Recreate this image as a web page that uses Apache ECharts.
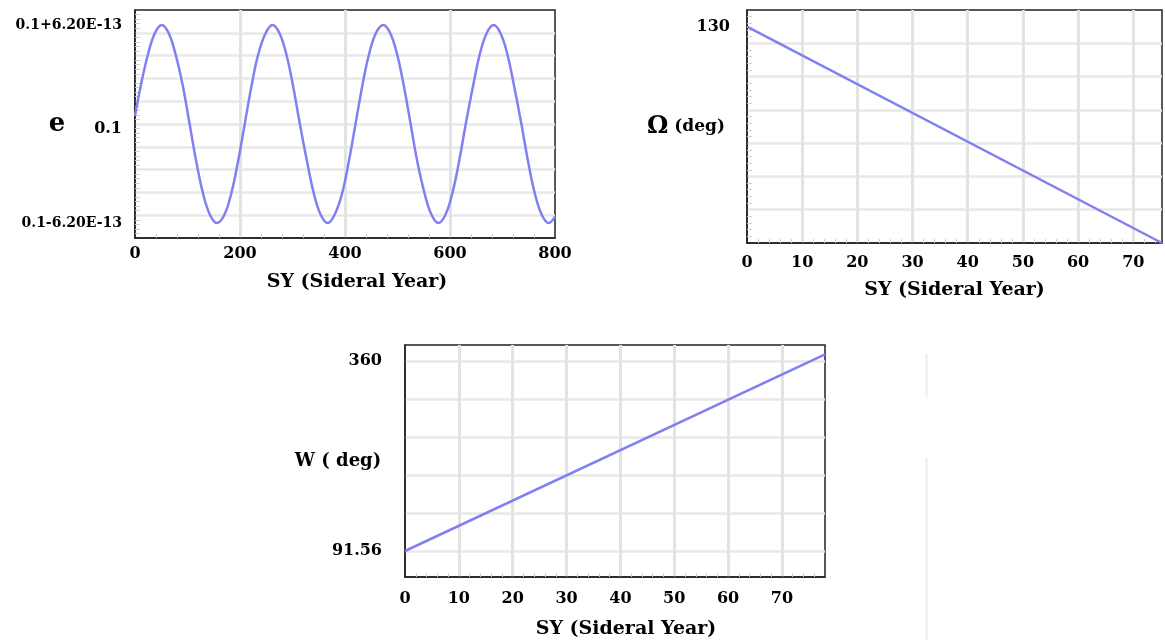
<!DOCTYPE html>
<html><head><meta charset="utf-8">
<script src="https://cdn.jsdelivr.net/npm/echarts@6/dist/echarts.min.js"></script>
<style>html,body{margin:0;padding:0;background:#fff}#c{width:1165px;height:640px}</style>
</head><body><div id="c"></div>
<script>
// ---- Data ----
// Chart 1: eccentricity e, stored as deviation from 0.1 in units of 1E-13
const eYears = [0, 11, 25, 38, 51, 64, 77, 91, 104, 117, 130, 143, 156, 170, 183, 196, 209, 222, 235, 249, 262, 275, 288, 301, 314, 328, 341, 354, 367, 380, 394, 407, 420, 433, 446, 459, 473, 486, 499, 512, 525, 538, 552, 565, 578, 591, 604, 617, 630, 644, 657, 670, 683, 696, 709, 722, 736, 749, 762, 775, 788, 800];
const eDev   = [0.5, 2.4, 4.4, 5.7, 6.2, 5.7, 4.4, 2.4, 0, -2.4, -4.4, -5.7, -6.2, -5.7, -4.4, -2.4, 0, 2.4, 4.4, 5.7, 6.2, 5.7, 4.4, 2.4, 0, -2.4, -4.4, -5.7, -6.2, -5.7, -4.4, -2.4, 0, 2.4, 4.4, 5.7, 6.2, 5.7, 4.4, 2.4, 0, -2.4, -4.4, -5.7, -6.2, -5.7, -4.4, -2.4, 0, 2.4, 4.4, 5.7, 6.2, 5.7, 4.4, 2.4, 0, -2.4, -4.4, -5.7, -6.2, -5.8];
const eLabelValues = [-6.2, 0, 6.2];
// Chart 2: Omega (deg)
const omegaYears = [0, 75.2];
const omegaDeg   = [130, 0];
const omegaLabelValues = [130];
// Chart 3: W (deg)
const wYears = [0, 78];
const wDeg   = [91.56, 369.5];
const wLabelValues = [91.56, 360];
const wGridValues  = [91.56, 145.25, 198.94, 252.62, 306.31, 360];
const xName = 'SY (Sideral Year)';

// ---- Styling ----
const FONT = '"DejaVu Serif", "Liberation Serif", serif';
const LINE = '#8080f2';
const txt = (size) => ({fontFamily: FONT, fontWeight: 'bold', fontSize: size, color: '#000'});

function xAx(gi, max, labelMargin, nameGap, namePad) {
  return {
    type: 'value', gridIndex: gi, min: 0, max: max, interval: gi === 0 ? 200 : 10,
    name: xName, nameLocation: 'middle', nameGap: nameGap, nameMoveOverlap: false,
    nameTextStyle: Object.assign(txt(19), {padding: namePad}),
    axisLine: {show: true, onZero: false, lineStyle: {color: '#222', width: 1.5}},
    axisTick: {show: false, inside: true},
    minorTick: {show: true, splitNumber: 5, length: 4, lineStyle: {color: '#cfcfcf', width: 1}},
    axisLabel: Object.assign(txt(16), {margin: labelMargin, showMaxLabel: gi === 0}),
    splitLine: {show: true, showMinLine: false, showMaxLine: false, lineStyle: {color: '#e3e3e3', width: 3}}
  };
}

const yBase = {
  type: 'value',
  nameMoveOverlap: false,
  axisLine: {show: true, onZero: false, lineStyle: {color: '#222', width: 1.5}},
  axisTick: {show: false, inside: true},
  minorTick: {show: true, splitNumber: 5, length: 5, lineStyle: {color: '#cfcfcf', width: 1}},
  splitLine: {show: true, showMinLine: false, showMaxLine: false, lineStyle: {color: '#e8e8e8', width: 2.5}}
};

const option = {
  backgroundColor: '#fff',
  animation: false,
  grid: [
    {left: 135, top: 10, width: 420, height: 228, show: true, borderColor: '#222', borderWidth: 1.5, backgroundColor: '#fff'},
    {left: 747, top: 10, width: 415, height: 233, show: true, borderColor: '#222', borderWidth: 1.5, backgroundColor: '#fff'},
    {left: 405, top: 345, width: 420, height: 232, show: true, borderColor: '#222', borderWidth: 1.5, backgroundColor: '#fff'}
  ],
  xAxis: [
    xAx(0, 800, 8, 35, [0, 0, 0, 24]),
    xAx(1, 75.2, 12, 38, [0, 0, 0, 0]),
    xAx(2, 78, 14, 43, [0, 0, 0, 22])
  ],
  yAxis: [
    Object.assign({}, yBase, {
      gridIndex: 0, min: -7.14, max: 7.14, interval: 1.428,
      name: 'e', nameLocation: 'middle', nameRotate: 0, nameGap: 78,
      nameTextStyle: Object.assign(txt(26), {align: 'center', verticalAlign: 'middle', padding: [0, 0, 2, 0]}),
      axisLabel: {
        customValues: eLabelValues, margin: 13,
        formatter: v => Math.abs(v) < 1e-9 ? '{b|0.1}' : '{s|0.1' + (v > 0 ? '+' : '-') + Math.abs(v).toFixed(2) + 'E-13}',
        rich: {b: Object.assign(txt(16), {padding: [10, 0, 0, 0]}), s: txt(14)}
      }
    }),
    Object.assign({}, yBase, {
      gridIndex: 1, min: 0, max: 140, interval: 20,
      name: '{o|Ω} (deg)', nameLocation: 'middle', nameRotate: 0, nameGap: 61,
      nameTextStyle: Object.assign(txt(17), {align: 'center', verticalAlign: 'middle', rich: {o: txt(24)}}),
      axisLabel: Object.assign(txt(16), {customValues: omegaLabelValues, margin: 17})
    }),
    Object.assign({}, yBase, {
      gridIndex: 2, min: 54.83, max: 382.6,
      name: 'W ( deg)', nameLocation: 'middle', nameRotate: 0, nameGap: 67,
      nameTextStyle: Object.assign(txt(18), {align: 'center', verticalAlign: 'middle'}),
      axisTick: {show: false, inside: true, customValues: wGridValues},
      minorTick: {show: false},
      splitLine: {show: true, showMinLine: true, showMaxLine: true, lineStyle: {color: '#e8e8e8', width: 2.5}},
      axisLabel: Object.assign(txt(16), {customValues: wLabelValues, margin: 23})
    })
  ],
  series: [
    {type: 'line', xAxisIndex: 0, yAxisIndex: 0, smooth: 0.4, showSymbol: false, clip: true,
     lineStyle: {color: LINE, width: 2.5}, data: eYears.map((x, i) => [x, eDev[i]])},
    {type: 'line', xAxisIndex: 1, yAxisIndex: 1, showSymbol: false, clip: true,
     lineStyle: {color: LINE, width: 2.5}, data: omegaYears.map((x, i) => [x, omegaDeg[i]])},
    {type: 'line', xAxisIndex: 2, yAxisIndex: 2, showSymbol: false, clip: true,
     lineStyle: {color: LINE, width: 2.5}, data: wYears.map((x, i) => [x, wDeg[i]])}
  ],
  graphic: [
    {type: 'line', silent: true, shape: {x1: 926.5, y1: 354, x2: 926.5, y2: 397}, style: {stroke: '#ececec', lineWidth: 2}},
    {type: 'line', silent: true, shape: {x1: 926.5, y1: 458, x2: 926.5, y2: 640}, style: {stroke: '#ececec', lineWidth: 2}}
  ]
};

const chart = echarts.init(document.getElementById('c'), null, {renderer: 'canvas'});
chart.setOption(option);
</script>
</body></html>
